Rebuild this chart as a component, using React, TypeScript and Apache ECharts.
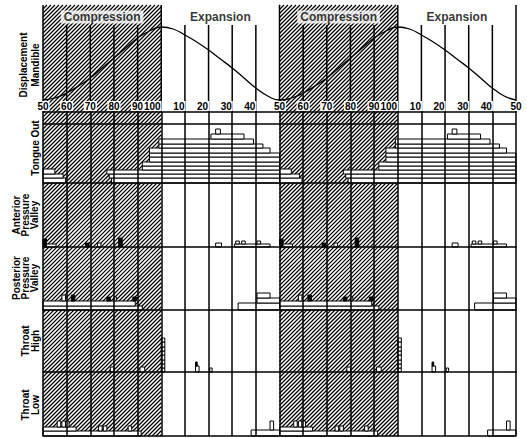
import React, { useEffect, useRef } from "react";
import * as echarts from "echarts";

// ---------- data ----------
const cycleTicks = ["50", "60", "70", "80", "90", "100", "10", "20", "30", "40"];
const tickLabels = [...cycleTicks, ...cycleTicks, "50"];
const cycleLength = 10;
const cycles = 2;
const phaseNames = ["Compression", "Expansion"];
const phaseCenters = [2.5, 7.5];
const phaseLabelHeight = 95;
const compressionSpan = [0, 5];

// mandible displacement over one cycle (x in tenths of cycle, y arbitrary units)
const mandibleU = [0, 0.5, 1, 1.5, 2, 2.5, 3, 3.5, 4, 4.5, 5, 5.5, 6, 6.5, 7, 7.5, 8, 8.5, 9, 9.5, 10];
const mandibleDisp = [12, 14, 19, 26, 34, 44, 54, 64, 74, 81, 85, 83, 77, 70, 62, 53, 44, 34, 24, 16, 12];

const panelLabels = [
  "Displacement\nMandible",
  "Tongue Out",
  "Anterior\nPressure\nValley",
  "Posterior\nPressure\nValley",
  "Throat\nHigh",
  "Throat\nLow",
];

// marks per cycle: [u0, u1, h0, h1, kind] kind 0 = open box, 1 = filled box, 2 = line
type Mark = [number, number, number, number, number];
const tongueOut: Mark[] = [
  [0, 0.95, 0, 5, 0],
  [0, 0.85, 5, 9, 0],
  [0, 0.5, 9, 14, 0],
  [2.9, 10, 0, 5, 0],
  [2.8, 10, 5, 9, 0],
  [2.7, 10, 9, 13, 0],
  [4.2, 10, 13, 17, 0],
  [4.2, 10, 17, 21, 0],
  [4.5, 10, 21, 26, 0],
  [4.5, 10, 26, 30, 0],
  [4.5, 9.6, 30, 35, 0],
  [4.9, 9.3, 35, 39, 0],
  [4.9, 8.9, 39, 44, 0],
  [7.1, 8.5, 44, 49, 0],
  [7.3, 7.5, 49, 54, 0],
  [0, 10, 59, 59, 2],
];
const anteriorValley: Mark[] = [
  [0, 0.15, 0, 8, 1],
  [0.15, 0.55, 0, 3, 0],
  [1.8, 1.95, 0, 4, 1],
  [2.3, 2.45, 0, 4, 0],
  [3.2, 3.35, 0, 9, 1],
  [7.3, 7.55, 0, 4, 0],
  [8.1, 9.6, 0, 3, 0],
  [8.15, 8.3, 3, 6, 0],
  [8.4, 8.55, 3, 6, 0],
  [9.05, 9.2, 3, 6, 0],
];
const posteriorValley: Mark[] = [
  [0, 4.2, 0, 4, 0],
  [0, 3.9, 4, 9, 0],
  [0.8, 0.95, 9, 15, 0],
  [1.2, 1.35, 9, 15, 1],
  [2.7, 2.85, 9, 13, 1],
  [3.0, 3.1, 9, 13, 0],
  [3.8, 3.95, 9, 13, 1],
  [8.25, 10, 0, 7, 0],
  [9.05, 10, 7, 12, 0],
  [9.05, 9.6, 12, 17, 0],
];
const throatHigh: Mark[] = [
  [5.0, 5.15, 0, 4, 0],
  [5.0, 5.15, 4, 8, 0],
  [5.0, 5.15, 8, 12, 0],
  [5.0, 5.15, 12, 17, 0],
  [5.0, 5.15, 17, 21, 0],
  [5.0, 5.15, 21, 25, 0],
  [5.0, 5.15, 25, 30, 0],
  [5.0, 5.15, 30, 34, 0],
  [2.85, 3.0, 0, 5, 0],
  [4.1, 4.3, 0, 5, 0],
  [6.45, 6.6, 0, 6, 0],
  [6.45, 6.52, 6, 10, 1],
  [7.05, 7.15, 0, 4, 0],
];
const throatLow: Mark[] = [
  [0, 4.15, 0, 5, 0],
  [0, 1.4, 5, 9, 0],
  [0.6, 0.75, 9, 15, 0],
  [0.8, 0.95, 9, 15, 0],
  [0.95, 1.1, 9, 15, 0],
  [2.35, 2.5, 5, 10, 0],
  [2.55, 2.7, 5, 10, 0],
  [3.6, 3.75, 5, 10, 0],
  [8.8, 10, 0, 6, 0],
  [9.6, 9.75, 6, 15, 0],
];

// ---------- layout ----------
const LEFT = 43;
const RIGHT = 11;
const TOP_GRID = { top: 5, height: 107 };
const panelTops = [112, 183, 247, 310, 372];
const panelHeights = [71, 64, 63, 62, 64];
const BG_MAX = 431;
const FONT = "'Liberation Sans', Arial, Helvetica, sans-serif";

const repeatCycles = (marks: Mark[]) => {
  const out: number[][] = [];
  for (let c = 0; c < cycles; c++) {
    marks.forEach((m) => out.push([m[0] + c * cycleLength, m[1] + c * cycleLength, m[2], m[3], m[4]]));
  }
  return out;
};

const renderMarks = (_p: any, api: any) => {
  const a = api.coord([api.value(0), api.value(2)]);
  const b = api.coord([api.value(1), api.value(3)]);
  const kind = api.value(4);
  if (kind === 2) {
    return {
      type: "line",
      shape: { x1: a[0], y1: a[1], x2: b[0], y2: b[1] },
      style: { stroke: "#000", lineWidth: 1.5 },
    };
  }
  return {
    type: "rect",
    shape: { x: a[0], y: b[1], width: b[0] - a[0], height: a[1] - b[1] },
    style: { fill: kind === 1 ? "#000" : "#fff", stroke: "#000", lineWidth: 1 },
  };
};

const renderHatch = (_p: any, api: any) => {
  const a = api.coord([api.value(0), 0]);
  const b = api.coord([api.value(1), BG_MAX]);
  const x0 = a[0];
  const x1 = b[0];
  const yTop = b[1];
  const yBot = a[1];
  const children: any[] = [];
  for (let c = Math.round(x0 + yTop); c <= x1 + yBot; c += 4) {
    const xs = Math.max(x0, c - yBot);
    const xe = Math.min(x1, c - yTop);
    if (xe > xs) {
      children.push({
        type: "line",
        shape: { x1: xs, y1: c - xs, x2: xe, y2: c - xe },
        style: { stroke: "#000", lineWidth: 1.15 },
      });
    }
  }
  return { type: "group", children };
};

const renderVLine = (_p: any, api: any) => {
  const a = api.coord([api.value(0), 0]);
  const b = api.coord([api.value(0), api.value(1)]);
  return {
    type: "line",
    shape: { x1: a[0], y1: a[1], x2: b[0], y2: b[1] },
    style: { stroke: "#000", lineWidth: 1.5 },
  };
};

export default function App() {
  const ref = useRef<HTMLDivElement>(null);
  useEffect(() => {
    if (!ref.current) return;
    const chart = echarts.init(ref.current, null, { renderer: "svg" });

    const grids: any[] = [
      { left: LEFT, right: RIGHT, top: TOP_GRID.top, height: TOP_GRID.height },
      { left: LEFT, right: RIGHT, top: TOP_GRID.top, height: BG_MAX },
      ...panelTops.map((t, i) => ({ left: LEFT, right: RIGHT, top: t, height: panelHeights[i] })),
    ];

    const labelFont = { fontFamily: FONT, fontWeight: "bold", fontSize: 10, color: "#000" };

    const xAxes: any[] = [
      {
        gridIndex: 0,
        type: "value",
        min: 0,
        max: cycles * cycleLength,
        interval: 1,
        z: 10,
        axisLine: { show: true, lineStyle: { color: "#000", width: 1.5 } },
        axisTick: { show: false },
        splitLine: { show: false },
        axisLabel: {
          inside: true,
          margin: 1,
          showMinLabel: true,
          showMaxLabel: true,
          formatter: (v: number) => {
            const i = Math.round(v);
            const t = tickLabels[i] ?? "";
            const shifted = i % cycleLength >= 5 && i < cycles * cycleLength;
            if (!shifted) return `{c|${t}}`;
            return `{c|${t}}{${t.length > 2 ? "p3" : "p2"}|}`;
          },
          rich: {
            c: { ...labelFont, backgroundColor: "#fff", padding: [0, 1, 0, 1] },
            p2: { ...labelFont, width: 12 },
            p3: { ...labelFont, width: 18 },
          },
        },
      },
      { gridIndex: 1, type: "value", min: 0, max: cycles * cycleLength, show: false },
      ...panelTops.map((_, i) => ({
        gridIndex: i + 2,
        type: "value",
        min: 0,
        max: cycles * cycleLength,
        interval: 1,
        z: 5,
        axisLine: { show: true, lineStyle: { color: "#000", width: 1.5 } },
        axisTick: { show: false },
        axisLabel: { show: false },
        splitLine: { show: true, showMinLine: true, showMaxLine: true, lineStyle: { color: "#000", width: 1.5 } },
      })),
    ];

    const yAxes: any[] = [
      { gridIndex: 0, type: "value", min: 0, max: TOP_GRID.height, show: false },
      { gridIndex: 1, type: "value", min: 0, max: BG_MAX, show: false },
      ...panelHeights.map((h, i) => ({ gridIndex: i + 2, type: "value", min: 0, max: h, show: false })),
    ];

    const hatchData: number[][] = [];
    for (let c = 0; c < cycles; c++) {
      hatchData.push([compressionSpan[0] + c * cycleLength, compressionSpan[1] + c * cycleLength]);
    }

    const vlineData: number[][] = [];
    for (let u = 0; u <= cycles * cycleLength; u++) {
      vlineData.push([u, u % 5 === 0 ? TOP_GRID.height : 87]);
    }

    const curve: number[][] = [];
    for (let c = 0; c < cycles; c++) {
      mandibleU.forEach((u, i) => {
        if (c > 0 && i === 0) return;
        curve.push([u + c * cycleLength, mandibleDisp[i]]);
      });
    }

    const titleData: any[] = [];
    for (let c = 0; c < cycles; c++) {
      phaseNames.forEach((n, i) => titleData.push({ value: [phaseCenters[i] + c * cycleLength, phaseLabelHeight], name: n }));
    }

    const panelSets = [tongueOut, anteriorValley, posteriorValley, throatHigh, throatLow];

    const series: any[] = [
      {
        type: "custom",
        xAxisIndex: 1,
        yAxisIndex: 1,
        z: 1,
        silent: true,
        renderItem: renderHatch,
        data: hatchData,
        clip: false,
      },
      {
        type: "custom",
        xAxisIndex: 0,
        yAxisIndex: 0,
        z: 3,
        silent: true,
        renderItem: renderVLine,
        data: vlineData,
        clip: false,
      },
      {
        type: "line",
        xAxisIndex: 0,
        yAxisIndex: 0,
        z: 4,
        data: curve,
        smooth: true,
        symbol: "none",
        lineStyle: { color: "#000", width: 1.3 },
      },
      {
        type: "scatter",
        xAxisIndex: 0,
        yAxisIndex: 0,
        z: 11,
        symbolSize: 0,
        data: titleData,
        label: {
          show: true,
          position: "inside",
          formatter: (p: any) => p.name,
          fontFamily: FONT,
          fontWeight: "bold",
          fontSize: 12,
          color: "#000",
          backgroundColor: "#fff",
          padding: [1, 3, 0, 3],
        },
      },
      ...panelSets.map((set, i) => ({
        type: "custom",
        xAxisIndex: i + 2,
        yAxisIndex: i + 2,
        z: 3,
        silent: true,
        renderItem: renderMarks,
        data: repeatCycles(set),
        clip: false,
      })),
    ];

    const labelCenters = [
      [29, 65],
      [35, 148],
      [25, 215],
      [25, 278],
      [30, 341],
      [30, 405],
    ];
    const labelSizes = [10, 10, 10, 10, 10, 10];
    const labelLineHeights = [12, 11, 9, 9, 10, 10];

    const graphic = panelLabels.map((t, i) => ({
      type: "text",
      x: labelCenters[i][0],
      y: labelCenters[i][1],
      rotation: Math.PI / 2,
      style: {
        text: t,
        fontFamily: FONT,
        fontWeight: "bold",
        fontSize: labelSizes[i],
        lineHeight: labelLineHeights[i],
        fill: "#000",
        align: "center",
        verticalAlign: "middle",
        textAlign: "center",
        textVerticalAlign: "middle",
      },
    }));

    chart.setOption({
      animation: false,
      backgroundColor: "#fff",
      grid: grids,
      xAxis: xAxes,
      yAxis: yAxes,
      series,
      graphic,
    });
    return () => chart.dispose();
  }, []);
  return (
    <div
      ref={ref}
      style={{ position: "fixed", left: 0, top: 0, width: 527, height: 438, background: "#fff" }}
    />
  );
}
